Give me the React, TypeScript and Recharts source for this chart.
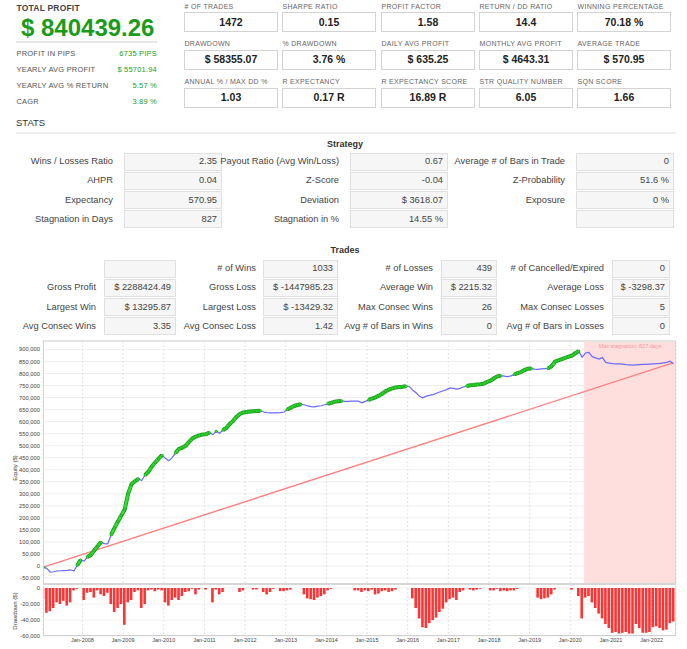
import React from "react";
import {
  ComposedChart, BarChart, Line, Bar, XAxis, YAxis, CartesianGrid, ReferenceArea,
} from "recharts";

// monthly samples, first one mid-Jan 2007
const START = 2007.04;

const EQUITY = [
  -5000, -10000, -26000, -24000, -21000, -20000, -19000, -18000, -16000, -21000, 3000, 25000,
  20000, 37000, 46000, 64000, 82000, 99000, 93000, 92000, 130000, 158000, 185000, 210000,
  235000, 300000, 340000, 352000, 362000, 355000, 378000, 392000, 414000, 430000, 446000, 460000,
  448000, 437000, 450000, 470000, 486000, 492000, 500000, 516000, 530000, 538000, 543000, 546000,
  548000, 554000, 546000, 560000, 552000, 565000, 574000, 590000, 603000, 620000, 632000, 638000,
  640000, 642000, 643000, 644000, 645000, 640000, 637000, 636000, 636000, 636000, 637000, 640000,
  650000, 658000, 665000, 669000, 672000, 670000, 665000, 662000, 661000, 664000, 666000, 670000,
  674000, 678000, 683000, 685000, 686000, 684000, 684000, 685000, 685000, 685000, 678000, 684000,
  690000, 696000, 701000, 708000, 716000, 726000, 733000, 738000, 742000, 744000, 745000, 747000,
  746000, 730000, 720000, 705000, 699000, 706000, 709000, 712000, 718000, 723000, 728000, 733000,
  740000, 738000, 735000, 738000, 744000, 748000, 751000, 752000, 754000, 755000, 758000, 765000,
  770000, 780000, 788000, 791000, 789000, 787000, 790000, 796000, 801000, 806000, 814000, 820000,
  821000, 818000, 817000, 819000, 820000, 821000, 830000, 849000, 855000, 860000, 865000, 870000,
  874000, 884000, 893000, 868000, 885000, 888000, 870000, 865000, 860000, 866000, 846000, 843000,
  841000, 840000, 840000, 839000, 837000, 836000, 835000, 836000, 837000, 838000, 838000, 839000,
  840000, 841000, 842000, 844000, 846000, 851000, 840000,
];

const DRAWDOWN = [
  -14000, -31000, -29000, -25000, -18000, -20000, -16000, -22000, -18000, -3000, -1000, 0,
  -15000, -6000, -5000, -12000, -3000, -8000, -10000, -6000, -20000, -30000, -25000, -20000,
  -46000, -18000, -15000, -5000, -3000, -25000, -20000, -3000, -2000, -4000, -2000, -3000,
  -18000, -22000, -15000, -12000, -15000, -10000, -5000, -4000, -1000, -8000, -2000, 0,
  -2000, 0, -18000, -2000, -8000, -5000, 0, 0, 0, 0, -5000, -3000,
  0, 0, -2000, -2000, 0, -5000, -8000, -5000, -1000, 0, -4000, -4000,
  -3000, -2000, 0, 0, 0, -8000, -13000, -14000, -15000, -12000, -10000, -8000,
  -3000, -1000, 0, 0, 0, 0, 0, 0, -3000, -3000, -5000, -3000,
  -4000, -2000, -8000, -7000, -4000, -3000, -5000, -4000, -2000, 0, 0, 0,
  0, -13000, -25000, -38000, -49000, -50000, -44000, -40000, -37000, -30000, -26000, -18000,
  -14000, -12000, -15000, -5000, -3000, 0, -2000, -3000, -2000, -1000, 0, 0,
  -3000, -3000, -1000, -4000, -3000, -4000, -3000, -3000, -1000, 0, 0, 0,
  0, 0, -12000, -14000, -13000, -12000, -8000, -2000, 0, 0, 0, 0,
  -2000, 0, -10000, -38000, -12000, -10000, -18000, -25000, -32000, -38000, -45000, -50000,
  -56000, -55000, -57000, -56000, -55000, -57000, -57000, -45000, -50000, -56000, -56000, -55000,
  -49000, -48000, -50000, -53000, -52000, -44000, -42000,
];

// straight reference line from first to last equity
const TREND = [-5000, 845000];

const YEAR_TICKS = [2008, 2009, 2010, 2011, 2012, 2013, 2014, 2015, 2016, 2017, 2018, 2019, 2020, 2021, 2022];
const EQUITY_TICKS = [
  -50000, 0, 50000, 100000, 150000, 200000, 250000, 300000, 350000, 400000,
  450000, 500000, 550000, 600000, 650000, 700000, 750000, 800000, 850000, 900000,
];
const DD_TICKS = [-60000, -40000, -20000, 0];
const X_DOMAIN = [2007.03, 2022.6];
const STAGNATION_FROM = 2020.34;
const STAGNATION_LABEL = "Max stagnation: 827 days";

const SUMMARY = [
  ["PROFIT IN PIPS", "6735 PIPS"],
  ["YEARLY AVG PROFIT", "$ 55701.94"],
  ["YEARLY AVG % RETURN", "5.57 %"],
  ["CAGR", "3.89 %"],
];

const METRICS = [
  ["# OF TRADES", "1472"], ["SHARPE RATIO", "0.15"], ["PROFIT FACTOR", "1.58"], ["RETURN / DD RATIO", "14.4"], ["WINNING PERCENTAGE", "70.18 %"],
  ["DRAWDOWN", "$ 58355.07"], ["% DRAWDOWN", "3.76 %"], ["DAILY AVG PROFIT", "$ 635.25"], ["MONTHLY AVG PROFIT", "$ 4643.31"], ["AVERAGE TRADE", "$ 570.95"],
  ["ANNUAL % / MAX DD %", "1.03"], ["R EXPECTANCY", "0.17 R"], ["R EXPECTANCY SCORE", "16.89 R"], ["STR QUALITY NUMBER", "6.05"], ["SQN SCORE", "1.66"],
];

const STRATEGY = [
  [["Wins / Losses Ratio", "2.35"], ["Payout Ratio (Avg Win/Loss)", "0.67"], ["Average # of Bars in Trade", "0"]],
  [["AHPR", "0.04"], ["Z-Score", "-0.04"], ["Z-Probability", "51.6 %"]],
  [["Expectancy", "570.95"], ["Deviation", "$ 3618.07"], ["Exposure", "0 %"]],
  [["Stagnation in Days", "827"], ["Stagnation in %", "14.55 %"], ["", ""]],
];

const TRADES = [
  [["", ""], ["# of Wins", "1033"], ["# of Losses", "439"], ["# of Cancelled/Expired", "0"]],
  [["Gross Profit", "$ 2288424.49"], ["Gross Loss", "$ -1447985.23"], ["Average Win", "$ 2215.32"], ["Average Loss", "$ -3298.37"]],
  [["Largest Win", "$ 13295.87"], ["Largest Loss", "$ -13429.32"], ["Max Consec Wins", "26"], ["Max Consec Losses", "5"]],
  [["Avg Consec Wins", "3.35"], ["Avg Consec Loss", "1.42"], ["Avg # of Bars in Wins", "0"], ["Avg # of Bars in Losses", "0"]],
];

let peak = -Infinity;
const rows = EQUITY.map((equity, i) => {
  const isHigh = equity >= peak;
  if (isHigh) peak = equity;
  return {
    t: START + i / 12,
    equity,
    high: isHigh ? equity : null,
    dd: DRAWDOWN[i],
    trend: i === 0 ? TREND[0] : i === EQUITY.length - 1 ? TREND[1] : null,
  };
});

const FONT = "'Liberation Sans', Arial, sans-serif";
const fmt = (v: number) => v.toLocaleString("en-US");

function Txt({ x, y, anchor = "start", size, weight = 400, color = "#444", spacing = 0, children }: any) {
  const w = 320;
  const left = anchor === "start" ? x : anchor === "end" ? x - w : x - w / 2;
  return (
    <div
      style={{
        position: "absolute", left, top: y - size * 0.6, width: w, height: size * 1.2,
        lineHeight: `${size * 1.2}px`, fontSize: size, fontWeight: weight, color,
        letterSpacing: spacing, whiteSpace: "nowrap",
        textAlign: anchor === "start" ? "left" : anchor === "end" ? "right" : "center",
      }}
    >
      {children}
    </div>
  );
}

function StatTable({ data, labelEnds, boxes, tops }: any) {
  return (
    <>
      {data.map((row: any, r: number) =>
        row.map(([label, value]: string[], c: number) => {
          const top = tops[r];
          const [b0, b1] = boxes[c];
          return (
            <React.Fragment key={`${r}-${c}`}>
              {label && <Txt x={labelEnds[c]} y={top + 9} anchor="end" size={9.3} color="#444">{label}</Txt>}
              <div
                style={{
                  position: "absolute", left: b0, top, width: b1 - b0, height: 18, boxSizing: "border-box",
                  background: "#f6f6f6", border: "1px solid #e0e0e0",
                }}
              />
              {value && <Txt x={b1 - 5} y={top + 9} anchor="end" size={9.3} color="#444">{value}</Txt>}
            </React.Fragment>
          );
        })
      )}
    </>
  );
}

export default function App() {
  const metricCols = [184, 282, 381, 479, 577];
  const metricRows = [12, 49.5, 87.5];
  const strategyTops = [152.5, 171.8, 191.1, 210.4];
  const tradesTops = [259.5, 278.8, 298.1, 317.4];

  return (
    <div style={{ position: "relative", width: 687, height: 649, overflow: "hidden", fontFamily: FONT, background: "#fff" }}>
      <style>{`body{margin:0}`}</style>

      {/* total profit block */}
      <Txt x={16.5} y={8.5} size={8.5} weight={700} color="#444" spacing={0.2}>TOTAL PROFIT</Txt>
      <Txt x={21} y={28.5} size={24} weight={700} color="#1a9c1a">$ 840439.26</Txt>
      <div style={{ position: "absolute", left: 16, top: 41, width: 141, height: 2, background: "#e6e6e6" }} />
      {SUMMARY.map(([label, value], i) => (
        <React.Fragment key={label}>
          <Txt x={16.5} y={53 + i * 16} size={7.5} color="#555" spacing={0.2}>{label}</Txt>
          <Txt x={157} y={53 + i * 16} anchor="end" size={7.5} color="#22a022" spacing={0.2}>{value}</Txt>
        </React.Fragment>
      ))}

      {/* metric boxes */}
      {METRICS.map(([label, value], i) => {
        const left = metricCols[i % 5];
        const top = metricRows[Math.floor(i / 5)];
        return (
          <React.Fragment key={label}>
            <Txt x={left + 0.5} y={top - 5.3} size={7} color="#666" spacing={0.3}>{label}</Txt>
            <div
              style={{
                position: "absolute", left, top, width: 94, height: 20, boxSizing: "border-box",
                border: "1px solid #d3d3d3", background: "#fff",
              }}
            />
            <Txt x={left + 47} y={top + 10} anchor="middle" size={10.5} weight={700} color="#222">{value}</Txt>
          </React.Fragment>
        );
      })}

      {/* stats tables */}
      <Txt x={16} y={123} size={9.5} color="#333">STATS</Txt>
      <div style={{ position: "absolute", left: 16, top: 132, width: 660, height: 2, background: "#eeeeee" }} />
      <Txt x={345} y={144} anchor="middle" size={9} weight={700} color="#333">Strategy</Txt>
      <StatTable
        data={STRATEGY}
        labelEnds={[113, 339, 565]}
        boxes={[[124, 222], [350, 448], [576, 674]]}
        tops={strategyTops}
      />
      <Txt x={345} y={250} anchor="middle" size={9} weight={700} color="#333">Trades</Txt>
      <StatTable
        data={TRADES}
        labelEnds={[96, 256, 433, 604]}
        boxes={[[104, 176], [263, 338], [441, 497], [612, 670]]}
        tops={tradesTops}
      />

      {/* equity chart */}
      <div style={{ position: "absolute", left: 0, top: 335 }}>
        <ComposedChart width={687} height={250} data={rows} margin={{ top: 6, right: 11, bottom: 1, left: 0 }}>
          <ReferenceArea
            x1={STAGNATION_FROM}
            x2={X_DOMAIN[1]}
            fill="#ffdede"
            fillOpacity={1}
            stroke="none"
            label={{ value: STAGNATION_LABEL, position: "insideTop", fill: "#f79a9a", fontSize: 5.5, offset: 3 }}
          />
          <CartesianGrid horizontal vertical={false} stroke="#efefef" />
          <CartesianGrid horizontal={false} vertical stroke="#e3e3e3" strokeDasharray="2 2" />
          <XAxis hide type="number" dataKey="t" domain={X_DOMAIN} ticks={YEAR_TICKS} allowDataOverflow />
          <YAxis
            width={43}
            domain={[-75000, 935000]}
            ticks={EQUITY_TICKS}
            tickFormatter={fmt}
            tick={{ fontSize: 5.8, fill: "#444" }}
            tickLine={false}
            axisLine={false}
            tickSize={0}
            tickMargin={3}
            interval={0}
            allowDataOverflow
          />
          <Line
            type="linear"
            dataKey="trend"
            stroke="#ff8080"
            strokeWidth={1.4}
            dot={false}
            connectNulls
            isAnimationActive={false}
          />
          <Line
            type="linear"
            dataKey="equity"
            stroke="#6a6aff"
            strokeWidth={1.2}
            dot={false}
            isAnimationActive={false}
          />
          <Line
            type="linear"
            dataKey="high"
            stroke="#1a9a1a"
            strokeWidth={4}
            dot={{ r: 1.5, fill: "#1a9a1a", stroke: "none" }}
            connectNulls={false}
            isAnimationActive={false}
          />
          <Line
            type="linear"
            dataKey="high"
            stroke="#2fe02f"
            strokeWidth={2.4}
            dot={{ r: 1, fill: "#2fe02f", stroke: "none" }}
            connectNulls={false}
            isAnimationActive={false}
          />
        </ComposedChart>
      </div>
      <div
        style={{
          position: "absolute", left: 43, top: 340, width: 633, height: 245, boxSizing: "border-box",
          borderTop: "2px solid #e4e4e4", borderLeft: "1px solid #d6d6d6", borderRight: "1px solid #d6d6d6",
          borderBottom: "2px solid #d6d6d6", pointerEvents: "none",
        }}
      />

      {/* drawdown chart */}
      <div style={{ position: "absolute", left: 0, top: 582 }}>
        <BarChart width={687} height={66} data={rows} margin={{ top: 6, right: 11, bottom: 0, left: 0 }}>
          <CartesianGrid horizontal vertical={false} stroke="#efefef" />
          <CartesianGrid horizontal={false} vertical stroke="#e3e3e3" strokeDasharray="2 2" />
          <XAxis
            type="number"
            dataKey="t"
            domain={X_DOMAIN}
            ticks={YEAR_TICKS}
            tickFormatter={(y: number) => `Jan-${y}`}
            tick={{ fontSize: 5.5, fill: "#444" }}
            tickLine={false}
            axisLine={false}
            tickSize={0}
            tickMargin={2}
            height={12}
            interval={0}
            allowDataOverflow
          />
          <YAxis
            width={43}
            domain={[-60000, 0]}
            ticks={DD_TICKS}
            tickFormatter={fmt}
            tick={{ fontSize: 5.8, fill: "#444" }}
            tickLine={false}
            axisLine={false}
            tickSize={0}
            tickMargin={3}
            interval={0}
          />
          <Bar dataKey="dd" fill="#ff0000" fillOpacity={0.8} barSize={2.6} isAnimationActive={false} />
        </BarChart>
      </div>
      <div
        style={{
          position: "absolute", left: 43, top: 586, width: 633, height: 50, boxSizing: "border-box",
          borderLeft: "1px solid #d6d6d6", borderRight: "1px solid #d6d6d6", borderBottom: "1px solid #cfcfcf",
          pointerEvents: "none",
        }}
      />

      {/* axis titles */}
      <div style={{ position: "absolute", left: 15, top: 468, transform: "translate(-50%,-50%) rotate(-90deg)", fontSize: 6, color: "#333", whiteSpace: "nowrap" }}>
        Equity ($)
      </div>
      <div style={{ position: "absolute", left: 15, top: 611, transform: "translate(-50%,-50%) rotate(-90deg)", fontSize: 6, color: "#333", whiteSpace: "nowrap" }}>
        Drawdown ($)
      </div>
    </div>
  );
}
